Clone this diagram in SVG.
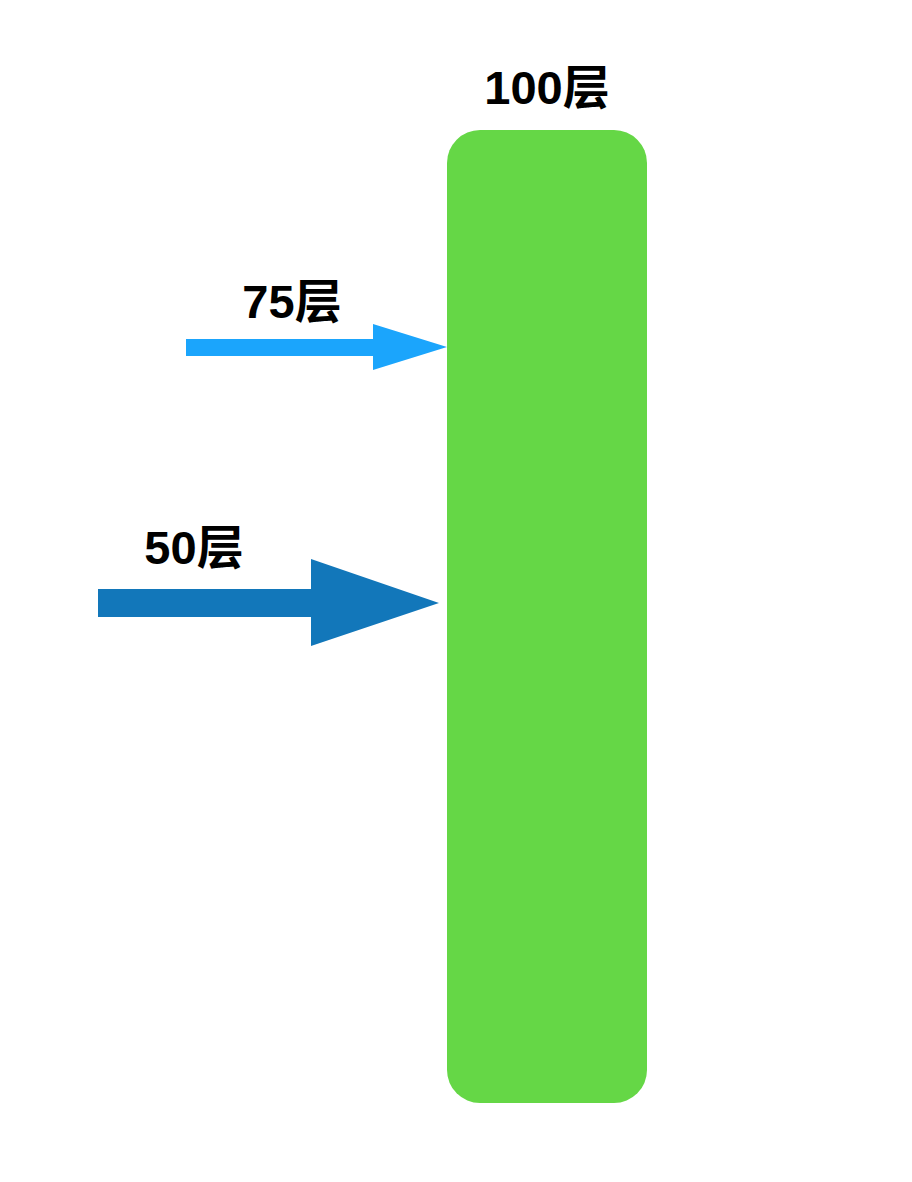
<svg xmlns="http://www.w3.org/2000/svg" width="912" height="1182" viewBox="0 0 912 1182">
<style>
.lbl{font-family:"Liberation Sans","Noto Sans CJK SC",sans-serif;font-weight:bold;font-size:47px;fill:#000;text-anchor:middle}
</style>
<rect width="912" height="1182" fill="#fff"/>
<g id="building">
<rect x="447" y="130" width="200" height="973" rx="33" ry="33" fill="#65D746"/>
<text class="lbl" x="547" y="104">100层</text>
</g>
<g id="connectors">
<polygon id="arrow75" points="186,339 373,339 373,324 447,347 373,370 373,356 186,356" fill="#1BA5FC"/>
<polygon id="arrow50" points="98,589 311,589 311,559 439,603 311,646 311,617 98,617" fill="#1277BA"/>
</g>
<g id="label75"><text class="lbl" x="292" y="318">75层</text></g>
<g id="label50"><text class="lbl" x="194" y="564">50层</text></g>
</svg>
